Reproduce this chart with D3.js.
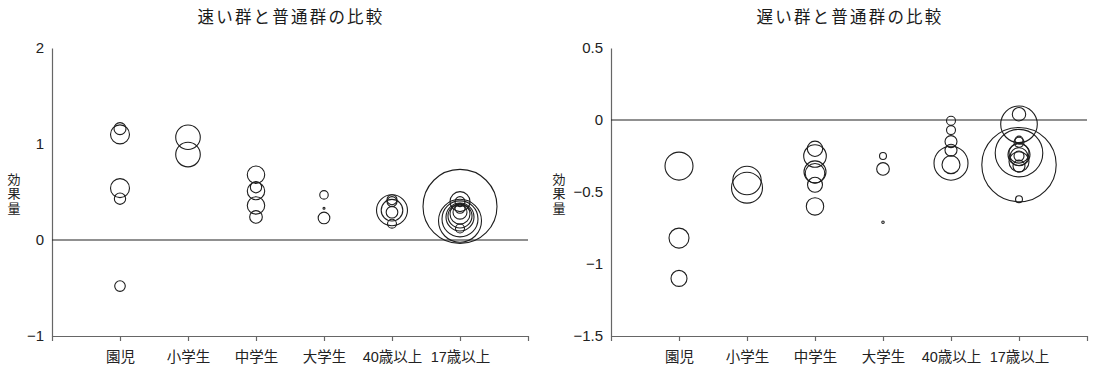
<!DOCTYPE html>
<html lang="ja">
<head>
<meta charset="utf-8">
<script src="https://cdn.jsdelivr.net/npm/d3@7"></script>
<style>
  html, body { margin: 0; padding: 0; background: #fff; }
  svg { display: block; font-family: "Liberation Sans", "Noto Sans CJK JP", sans-serif; }
  .tick text { fill: #222; }
</style>
</head>
<body>
<svg id="chart" width="1093" height="366"></svg>
<script>
// Age groups along the horizontal axis
const groups = ["園児", "小学生", "中学生", "大学生", "40歳以上", "17歳以上"];

// Fast vs. normal group: study group index, effect size, sample weight
const fastGroup  = [0, 0, 0, 0, 0, 1, 1, 2, 2, 2, 2, 2, 3, 3, 3, 4, 4, 4, 4, 4, 4,
                    5, 5, 5, 5, 5, 5, 5, 5, 5, 5, 5];
const fastEffect = [1.16, 1.10, 0.54, 0.43, -0.48,
                    1.07, 0.89,
                    0.68, 0.55, 0.51, 0.36, 0.24,
                    0.47, 0.33, 0.23,
                    0.31, 0.31, 0.42, 0.40, 0.29, 0.17,
                    0.35, 0.20, 0.40, 0.40, 0.33, 0.29, 0.27, 0.25, 0.24, 0.22, 0.12];
const fastN      = [36, 90, 90, 32, 28,
                    151, 151,
                    76, 32, 76, 76, 40,
                    18, 1, 34,
                    240, 117, 25, 25, 34, 20,
                    1369, 462, 100, 25, 25, 49, 100, 144, 196, 324, 20];

// Slow vs. normal group: study group index, effect size, sample weight
const slowGroup  = [0, 0, 0, 1, 1, 2, 2, 2, 2, 2, 2, 3, 3, 3, 4, 4, 4, 4, 4, 4,
                    5, 5, 5, 5, 5, 5, 5, 5, 5, 5, 5, 5, 5];
const slowEffect = [-0.32, -0.82, -1.10,
                    -0.42, -0.47,
                    -0.20, -0.25, -0.36, -0.37, -0.45, -0.60,
                    -0.25, -0.34, -0.71,
                    -0.005, -0.07, -0.15, -0.21, -0.30, -0.31,
                    0.04, -0.03, -0.31, -0.23, -0.14, -0.155, -0.23, -0.24, -0.255, -0.25, -0.29, -0.32, -0.55];
const slowN      = [196, 100, 64,
                    202, 240,
                    59, 128, 121, 96, 56, 76,
                    12, 40, 1.5,
                    20, 20, 36, 36, 289, 81,
                    45, 335, 1384, 566, 16, 25, 100, 121, 81, 25, 100, 36, 12];

// Axis tick values
const fastTicks = [2, 1, 0, -1];
const slowTicks = [0.5, 0, -0.5, -1, -1.5];

const svg = d3.select("#chart");
const rScale = d3.scaleSqrt().domain([0, 1400]).range([0, Math.sqrt(1400)]);

function panel(opts) {
  const { left, right, top, bottom, yDomain, ticks, gIdx, eff, n, title, labelX } = opts;
  const g = svg.append("g");
  const x = d3.scaleLinear().domain([0, groups.length + 1]).range([left, right]);
  const y = d3.scaleLinear().domain(yDomain).range([bottom, top]);

  // title
  g.append("text")
    .attr("x", (left + right) / 2 + 1)
    .attr("y", 23)
    .attr("text-anchor", "middle")
    .attr("font-family", "Noto Sans CJK JP")
    .attr("font-size", 16.5)
    .attr("letter-spacing", 2.2)
    .attr("fill", "#1a1a1a")
    .text(title);

  // vertical axis title, set in vertical writing mode
  g.append("text")
    .attr("x", labelX)
    .attr("y", 194)
    .attr("writing-mode", "vertical-rl")
    .attr("text-anchor", "middle")
    .attr("font-family", "Noto Sans CJK JP")
    .attr("font-size", 13)
    .attr("letter-spacing", 1.5)
    .attr("fill", "#222")
    .text("効果量");

  // left axis
  const ya = g.append("g")
    .attr("transform", `translate(${left},0)`)
    .call(d3.axisLeft(y).tickValues(ticks).tickSize(0).tickPadding(8).tickFormat(d3.format("~g")));
  ya.select(".domain").attr("stroke", "#666").attr("stroke-width", 1.2);
  ya.selectAll("text").attr("font-size", 15);

  // bottom axis with ticks at group boundaries and group labels
  const xa = g.append("g")
    .attr("transform", `translate(0,${bottom})`)
    .call(d3.axisBottom(x)
      .tickValues(d3.range(0, groups.length + 2))
      .tickSize(5)
      .tickSizeOuter(0)
      .tickPadding(11)
      .tickFormat(i => (i >= 1 && i <= groups.length) ? groups[i - 1] : ""));
  xa.select(".domain").attr("stroke", "#666").attr("stroke-width", 1.2);
  xa.selectAll(".tick line").attr("stroke", "#666").attr("stroke-width", 1.2);
  xa.selectAll("text").attr("font-size", 14.5).attr("font-family", "Liberation Sans, Noto Sans CJK JP");

  // zero reference line
  g.append("line")
    .attr("x1", x(0)).attr("x2", x(groups.length + 1))
    .attr("y1", y(0)).attr("y2", y(0))
    .attr("stroke", "#222").attr("stroke-width", 1.2);

  // one circle per study, sized by sample weight
  const data = eff.map((v, i) => ({ g: gIdx[i], v, n: n[i] }));
  g.append("g").selectAll("circle")
    .data(data)
    .join("circle")
    .attr("cx", d => x(d.g + 1))
    .attr("cy", d => y(d.v))
    .attr("r", d => rScale(d.n))
    .attr("fill", "none")
    .attr("stroke", "#1e1e1e")
    .attr("stroke-width", 1.1);
}

panel({
  left: 52, right: 528, top: 48, bottom: 336,
  yDomain: [-1, 2], ticks: fastTicks,
  gIdx: fastGroup, eff: fastEffect, n: fastN,
  title: "速い群と普通群の比較", labelX: 14
});

panel({
  left: 611, right: 1087, top: 48, bottom: 336,
  yDomain: [-1.5, 0.5], ticks: slowTicks,
  gIdx: slowGroup, eff: slowEffect, n: slowN,
  title: "遅い群と普通群の比較", labelX: 559
});
</script>
</body>
</html>
